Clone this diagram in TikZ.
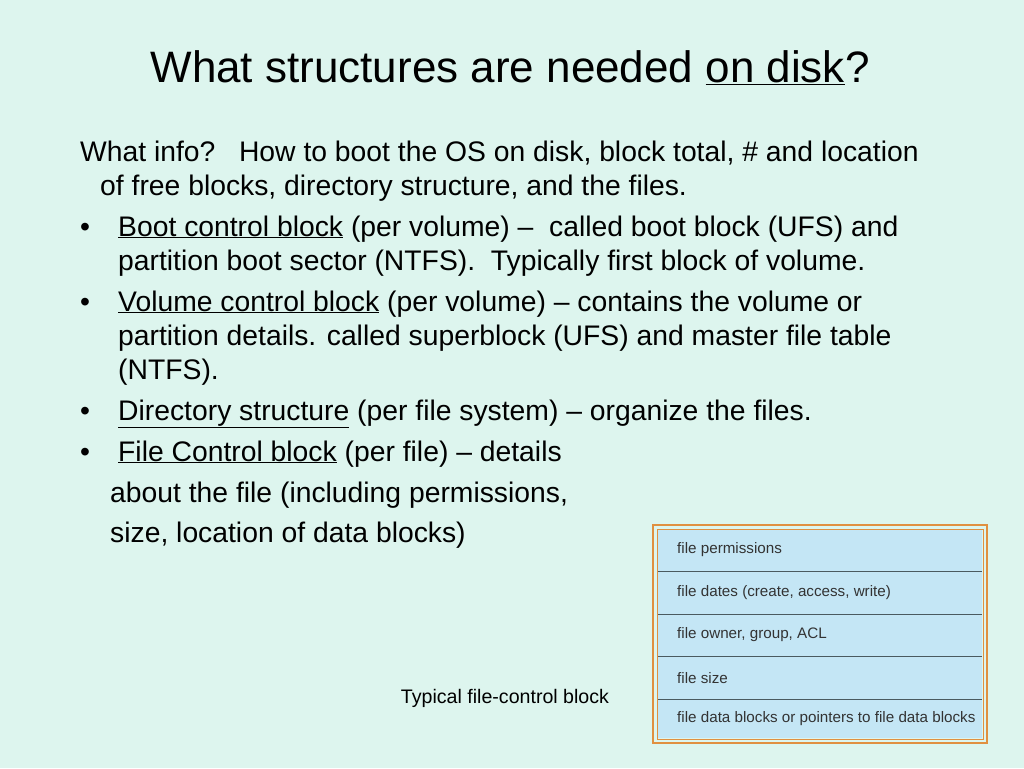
\documentclass[tikz,border=0pt]{standalone}
\usepackage{fontspec}
\setmainfont{Liberation Sans}
\definecolor{bg}{HTML}{DDF5EE}
\definecolor{cell}{HTML}{C4E6F5}
\definecolor{rule}{HTML}{4A5A60}
\definecolor{frame}{HTML}{E09040}
\begin{document}
\begin{tikzpicture}[x=1pt,y=-1pt,
  body/.style={anchor=base west,inner sep=0,font=\fontsize{28.3}{32}\selectfont},
  cellt/.style={anchor=west,inner sep=0,font=\fontsize{15.2}{18}\selectfont,text=black!80}]
\fill[bg] (0,0) rectangle (1024,768);
\useasboundingbox (0,0) rectangle (1024,768);
\node[anchor=base,inner sep=0,font=\fontsize{44}{50}\selectfont] (title) at (510,82) {What structures are needed \underline{on disk}?};
\node[body] (l1) at (80,161) {What info?\ \ \ How to boot the OS on disk, block total, \# and location};
\node[body] (l2) at (100,195) {of free blocks, directory structure, and the files.};
\node[body] (b1) at (80,236) {•};
\node[body] (l3) at (118,236) {\underline{Boot control block} (per volume) –\ \ called boot block (UFS) and};
\node[body] (l4) at (118,270) {partition boot sector (NTFS).\ \ Typically first block of volume.};
\node[body] (b2) at (80,311) {•};
\node[body] (l5) at (118,311) {\underline{Volume control block} (per volume) – contains the volume or};
\node[body] (l6) at (118,345) {partition details. called superblock (UFS) and master file table};
\node[body] (l7) at (118,379) {(NTFS).};
\node[body] (b3) at (80,420) {•};
\node[body] (l8) at (118,420) {\underline{Directory structure} (per file system) – organize the files.};
\node[body] (b4) at (80,461) {•};
\node[body] (l9) at (118,461) {\underline{File Control block} (per file) – details};
\node[body] (l10) at (110,502) {about the file (including permissions,};
\node[body] (l11) at (110,542) {size, location of data blocks)};
\node[anchor=base,inner sep=0,font=\fontsize{19.6}{22}\selectfont] (cap) at (505,703) {Typical file-control block};
\draw[frame,line width=1.5pt] (653,525) rectangle (987,743);
\draw[frame,line width=1pt] (657,529) rectangle (983,739);
\fill[cell] (658,530) rectangle (982,738);
\foreach \y in {571,614,656,699} \draw[rule,line width=0.8pt] (658,\y) -- (982,\y);
\node[cellt] (c1) at (677,550) {file permissions};
\node[cellt] (c2) at (677,593) {file dates (create, access, write)};
\node[cellt] (c3) at (677,635) {file owner, group, ACL};
\node[cellt] (c4) at (677,678) {file size};
\node[cellt] (c5) at (677,719) {file data blocks or pointers to file data blocks};
\end{tikzpicture}
\end{document}
